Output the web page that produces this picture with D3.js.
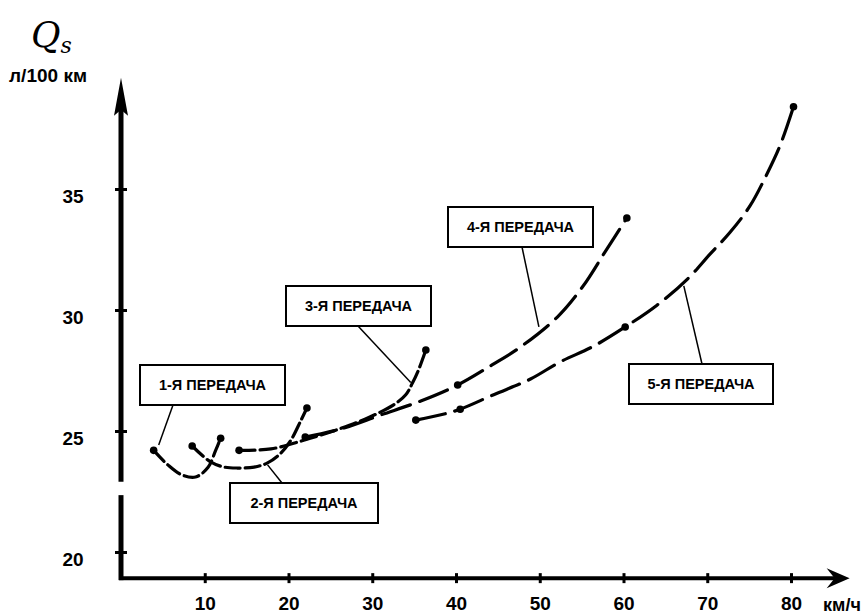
<!DOCTYPE html>
<html>
<head>
<meta charset="utf-8">
<script src="https://cdn.jsdelivr.net/npm/d3@7"></script>
<style>
	body { margin: 0; background: #fff; }
	svg { display: block; font-family: "Liberation Sans", Arial, sans-serif; }
	.axis text { font-weight: bold; font-size: 19px; fill: #000; }
	.callout text { font-weight: bold; font-size: 14.5px; fill: #000; }
</style>
</head>
<body>
<div id="chart"></div>
<script>
// fuel consumption per gear: speed (км/ч) -> Qs (л/100 км)
var gear1Speed = [3.9, 5.6, 7.2, 8.9, 10.4, 11.3, 11.9];
var gear1Fuel  = [24.2, 23.6, 23.2, 23.1, 23.5, 24.2, 24.7];

var gear2Speed = [8.5, 10.7, 12.3, 13.9, 15.9, 17.5, 19.1, 20.3, 21.5, 22.2];
var gear2Fuel  = [24.38, 23.72, 23.51, 23.47, 23.51, 23.68, 24.09, 24.63, 25.45, 25.95];

var gear3Speed = [14.1, 17.9, 22.6, 26.2, 29.2, 32.5, 34.0, 34.8, 35.5, 36.4];
var gear3Fuel  = [24.2, 24.26, 24.7, 25.1, 25.5, 26.07, 26.5, 26.98, 27.5, 28.35];

var gear4Speed = [22.0, 26.2, 31.0, 35.8, 40.2, 44.3, 47.7, 52.1, 55.2, 57.8, 60.4];
var gear4Fuel  = [24.75, 25.08, 25.66, 26.24, 26.9, 27.73, 28.47, 29.71, 31.0, 32.4, 33.8];

var gear5Speed = [35.2, 39.0, 40.5, 44.5, 48.9, 52.4, 56.4, 60.2, 64.0, 67.7, 70.3, 72.7, 75.1, 77.1, 78.7, 80.3];
var gear5Fuel  = [25.45, 25.74, 25.9, 26.5, 27.15, 27.85, 28.5, 29.3, 30.2, 31.3, 32.3, 33.2, 34.3, 35.6, 36.8, 38.4];

// speeds where the curve carries a marked point
var gear1Marks = [3.9, 11.9];
var gear2Marks = [8.5, 22.2];
var gear3Marks = [14.1, 36.4];
var gear4Marks = [22.0, 40.2, 60.4];
var gear5Marks = [35.2, 40.5, 60.2, 80.3];

var gearLabels = ["1-Я ПЕРЕДАЧА", "2-Я ПЕРЕДАЧА", "3-Я ПЕРЕДАЧА", "4-Я ПЕРЕДАЧА", "5-Я ПЕРЕДАЧА"];

var xTicks = [10, 20, 30, 40, 50, 60, 70, 80];
var yTicks = [20, 25, 30, 35];
var xUnit = "км/ч";
var yUnit = "л/100 км";

var gears = [
	{ speed: gear1Speed, fuel: gear1Fuel, marks: gear1Marks, label: gearLabels[0] },
	{ speed: gear2Speed, fuel: gear2Fuel, marks: gear2Marks, label: gearLabels[1] },
	{ speed: gear3Speed, fuel: gear3Fuel, marks: gear3Marks, label: gearLabels[2] },
	{ speed: gear4Speed, fuel: gear4Fuel, marks: gear4Marks, label: gearLabels[3] },
	{ speed: gear5Speed, fuel: gear5Fuel, marks: gear5Marks, label: gearLabels[4] }
];

// layout: dash pattern per curve, callout boxes (px) and where their leader touches the curve (data units)
var dashes = ["15,5", "15,5", "16,5", "30,10", "30,10"];
var callouts = [
	{ box: [140, 365, 145, 40], from: [173, 405], to: [4.5, 24.42] },
	{ box: [230, 483, 148, 40], from: [282, 483], to: [17.5, 23.6] },
	{ box: [286, 286, 145, 40], from: [358, 326], to: [34.6, 27.0] },
	{ box: [448, 207, 145, 40], from: [522, 247], to: [49.9, 29.3] },
	{ box: [629, 364, 144, 40], from: [702, 364], to: [67.2, 31.0] }
];

var W = 864, H = 616;

var svg = d3.select("#chart")
	.append("svg")
	.attr("width", W)
	.attr("height", H);

var x = d3.scaleLinear().domain([0, 80]).range([121, 791]);
var y = d3.scaleLinear().domain([20, 35]).range([552, 189]);

var axisX0 = x(0), axisY0 = y(18.92);
var xEnd = x(87), yEnd = y(39.6);
var yBreak = [22.35, 22.9];

// --- axes
var yAxis = svg.append("g")
	.attr("class", "axis")
	.attr("transform", "translate(" + axisX0 + ",0)")
	.call(d3.axisLeft(y).tickValues(yTicks).tickFormat(d3.format("d")));
yAxis.select(".domain").remove();
yAxis.selectAll(".tick line").attr("x1", -6).attr("x2", 6).attr("stroke", "#000").attr("stroke-width", 3);
yAxis.selectAll(".tick text").attr("x", -48).attr("y", 7).attr("text-anchor", "middle");

var xAxis = svg.append("g")
	.attr("class", "axis")
	.attr("transform", "translate(0," + axisY0 + ")")
	.call(d3.axisBottom(x).tickValues(xTicks).tickFormat(d3.format("d")));
xAxis.select(".domain").remove();
xAxis.selectAll(".tick line").attr("y1", -5).attr("y2", 5).attr("stroke", "#000").attr("stroke-width", 3);
xAxis.selectAll(".tick text").attr("y", 18);

// y axis line with the break
svg.append("line")
	.attr("x1", axisX0).attr("x2", axisX0)
	.attr("y1", axisY0 + 2).attr("y2", y(yBreak[0]))
	.attr("stroke", "#000").attr("stroke-width", 5);
svg.append("line")
	.attr("x1", axisX0).attr("x2", axisX0)
	.attr("y1", y(yBreak[1])).attr("y2", yEnd + 25)
	.attr("stroke", "#000").attr("stroke-width", 5);
svg.append("path")
	.attr("d", "M" + axisX0 + "," + yEnd + " L" + (axisX0 + 7) + "," + (yEnd + 38)
		+ " L" + axisX0 + "," + (yEnd + 32) + " L" + (axisX0 - 7) + "," + (yEnd + 38) + "Z")
	.attr("fill", "#000");

// x axis line
svg.append("line")
	.attr("x1", axisX0 - 2).attr("x2", xEnd - 10)
	.attr("y1", axisY0).attr("y2", axisY0)
	.attr("stroke", "#000").attr("stroke-width", 4);
svg.append("path")
	.attr("d", "M" + xEnd + "," + axisY0 + " L" + (xEnd - 23) + "," + (axisY0 - 10)
		+ " L" + (xEnd - 15) + "," + axisY0 + " L" + (xEnd - 23) + "," + (axisY0 + 10) + "Z")
	.attr("fill", "#000");

// units
svg.append("text")
	.attr("x", 842).attr("y", 605)
	.attr("text-anchor", "middle").attr("dy", "0.35em")
	.attr("font-weight", "bold").attr("font-size", 18)
	.text(xUnit);
svg.append("text")
	.attr("x", 48).attr("y", 75)
	.attr("text-anchor", "middle").attr("dy", "0.35em")
	.attr("font-weight", "bold").attr("font-size", 19)
	.text(yUnit);
var qs = svg.append("text")
	.attr("x", 31).attr("y", 47)
	.attr("font-family", "'DejaVu Serif', 'Liberation Serif', serif")
	.attr("font-style", "italic");
qs.append("tspan").attr("font-size", 36).text("Q");
qs.append("tspan").attr("font-size", 22).attr("dy", 6).text("s");

// --- curves
var line = d3.line()
	.x(d => x(d[0]))
	.y(d => y(d[1]))
	.curve(d3.curveCatmullRom.alpha(0.5));

gears.forEach((g, i) => {
	var pts = g.speed.map((s, k) => [s, g.fuel[k]]);
	svg.append("path")
		.attr("d", line(pts))
		.attr("fill", "none")
		.attr("stroke", "#000")
		.attr("stroke-width", 3.2)
		.attr("stroke-linecap", "round")
		.attr("stroke-dasharray", dashes[i]);
	svg.selectAll(null)
		.data(pts.filter(p => g.marks.indexOf(p[0]) >= 0))
		.join("circle")
		.attr("cx", d => x(d[0]))
		.attr("cy", d => y(d[1]))
		.attr("r", 3.8)
		.attr("fill", "#000");
});

// --- callouts
var co = svg.selectAll("g.callout")
	.data(callouts)
	.join("g")
	.attr("class", "callout");
co.append("line")
	.attr("x1", d => d.from[0]).attr("y1", d => d.from[1])
	.attr("x2", d => x(d.to[0])).attr("y2", d => y(d.to[1]))
	.attr("stroke", "#000").attr("stroke-width", 1.5);
co.append("rect")
	.attr("x", d => d.box[0]).attr("y", d => d.box[1])
	.attr("width", d => d.box[2]).attr("height", d => d.box[3])
	.attr("fill", "#fff").attr("stroke", "#000").attr("stroke-width", 2);
co.append("text")
	.attr("x", d => d.box[0] + d.box[2] / 2)
	.attr("y", d => d.box[1] + d.box[3] / 2)
	.attr("dy", "0.36em")
	.attr("text-anchor", "middle")
	.text((d, i) => gears[i].label);
</script>
</body>
</html>
